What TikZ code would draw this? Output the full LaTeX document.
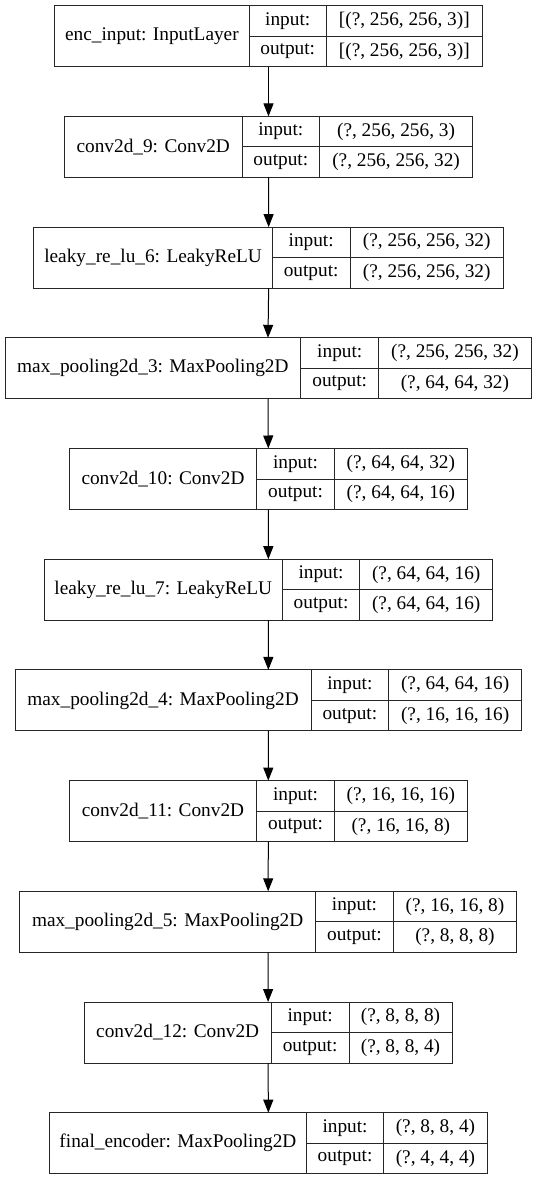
\documentclass[tikz,border=0pt]{standalone}
\usepackage{fontspec}
\setmainfont{Liberation Serif}
\usetikzlibrary{arrows.meta}

% one layer: name, top, left, div1, div2, right, label, input, output
\newcommand{\layerbox}[9]{%
  \node[cell, minimum width={(#6-#3)*1pt}, minimum height=61pt] (#1) at (#3,#2) {};
  \node[cell, minimum width={(#4-#3)*1pt}, minimum height=61pt] (#1-name) at (#1.north west) {#7};
  \node[cell, minimum width={(#5-#4)*1pt}, minimum height=30.5pt] (#1-in) at (#1-name.north east) {input:};
  \node[cell, minimum width={(#5-#4)*1pt}, minimum height=30.5pt] (#1-out) at (#1-in.south west) {output:};
  \node[cell, minimum width={(#6-#5)*1pt}, minimum height=30.5pt] (#1-inval) at (#1-in.north east) {#8};
  \node[cell, minimum width={(#6-#5)*1pt}, minimum height=30.5pt] (#1-outval) at (#1-in.south east) {#9};
}

\begin{document}
\begin{tikzpicture}[x=1pt, y=-1pt,
  cell/.style={draw=black!85, line width=1pt, inner sep=0pt, outer sep=0pt, anchor=north west, font=\fontsize{19.3}{21}\selectfont},
  arr/.style={-{Triangle[length=13pt, width=10pt]}, line width=1pt, draw=black}]
  \useasboundingbox (0,0) rectangle (535,1180);

  \layerbox{enc}{5.7}{54.8}{249}{326.4}{482.2}{enc\_input: InputLayer}{[(?, 256, 256, 3)]}{[(?, 256, 256, 3)]}
  \layerbox{convA}{116.4}{64.4}{242.1}{319.5}{472.6}{conv2d\_9: Conv2D}{(?, 256, 256, 3)}{(?, 256, 256, 32)}
  \layerbox{leakyA}{227.1}{33.9}{272.3}{350}{503.4}{leaky\_re\_lu\_6: LeakyReLU}{(?, 256, 256, 32)}{(?, 256, 256, 32)}
  \layerbox{poolA}{337.8}{5}{300.7}{378.8}{531}{max\_pooling2d\_3: MaxPooling2D}{(?, 256, 256, 32)}{(?, 64, 64, 32)}
  \layerbox{convB}{448.5}{69.5}{256.5}{334.6}{467.1}{conv2d\_10: Conv2D}{(?, 64, 64, 32)}{(?, 64, 64, 16)}
  \layerbox{leakyB}{559.2}{44.2}{282.2}{359.9}{492.5}{leaky\_re\_lu\_7: LeakyReLU}{(?, 64, 64, 16)}{(?, 64, 64, 16)}
  \layerbox{poolB}{669.9}{15.1}{311}{388.7}{521.6}{max\_pooling2d\_4: MaxPooling2D}{(?, 64, 64, 16)}{(?, 16, 16, 16)}
  \layerbox{convC}{780.6}{69.5}{256.5}{334.6}{467.1}{conv2d\_11: Conv2D}{(?, 16, 16, 16)}{(?, 16, 16, 8)}
  \layerbox{poolC}{891.3}{19.9}{315.4}{393.5}{516.4}{max\_pooling2d\_5: MaxPooling2D}{(?, 16, 16, 8)}{(?, 8, 8, 8)}
  \layerbox{convD}{1002}{84.2}{271.2}{349}{452}{conv2d\_12: Conv2D}{(?, 8, 8, 8)}{(?, 8, 8, 4)}
  \layerbox{final}{1112.7}{49.7}{306.2}{383.9}{487}{final\_encoder: MaxPooling2D}{(?, 8, 8, 4)}{(?, 4, 4, 4)}

  \draw[arr] (enc.south) -- (convA.north);
  \draw[arr] (convA.south) -- (leakyA.north);
  \draw[arr] (leakyA.south) -- (poolA.north);
  \draw[arr] (poolA.south) -- (convB.north);
  \draw[arr] (convB.south) -- (leakyB.north);
  \draw[arr] (leakyB.south) -- (poolB.north);
  \draw[arr] (poolB.south) -- (convC.north);
  \draw[arr] (convC.south) -- (poolC.north);
  \draw[arr] (poolC.south) -- (convD.north);
  \draw[arr] (convD.south) -- (final.north);
\end{tikzpicture}
\end{document}
